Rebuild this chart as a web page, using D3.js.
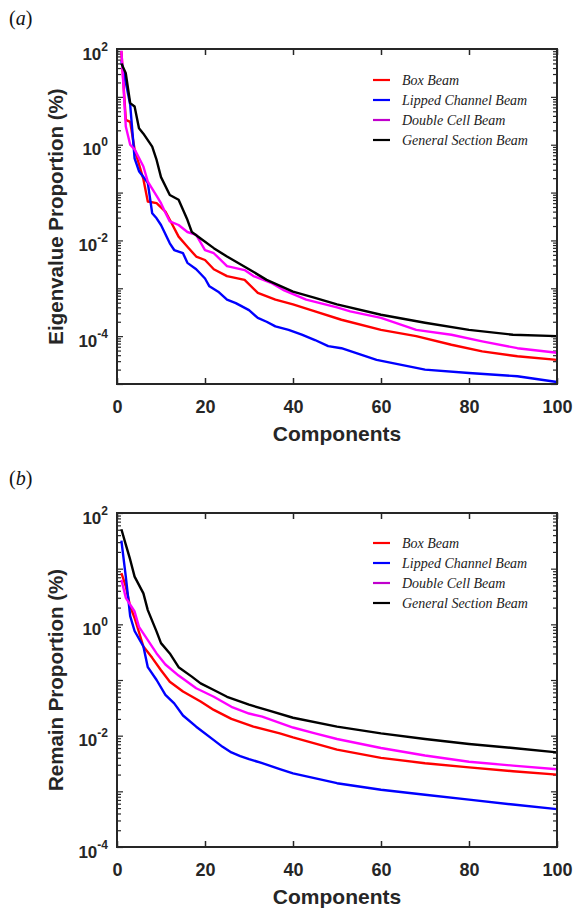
<!DOCTYPE html>
<html><head><meta charset="utf-8">
<script src="https://cdn.jsdelivr.net/npm/d3@7"></script>
<style>body{margin:0;background:#fff}</style>
</head><body>
<svg id="c" width="580" height="914"></svg>
<script>
// ---------- DATA ----------
const seriesNames = ["Box Beam", "Lipped Channel Beam", "Double Cell Beam", "General Section Beam"];
const lineColors = ["#ff0000", "#0000ff", "#ff00ff", "#000000"];
const legendColors = ["#ff0000", "#0000ff", "#c000cc", "#000000"];
const xTicks = [0, 20, 40, 60, 80, 100];
const yLabelTicks = [1e2, 1e0, 1e-2, 1e-4];

// (a) Eigenvalue proportion (%)
const eigBoxX = [1,2,3,4,6,7,9,11,12,14,16,18,20,22,25,29,32,36,40,45,51,60,68,76,83,91,100];
const eigBoxY = [90,3.3,3.0,0.8,0.19,0.065,0.06,0.04,0.027,0.012,7.4e-3,4.6e-3,3.9e-3,2.5e-3,1.8e-3,1.5e-3,8e-4,5.8e-4,4.6e-4,3.3e-4,2.2e-4,1.35e-4,1.0e-4,6.6e-5,4.8e-5,3.8e-5,3.2e-5];
const eigLipX = [1,2,3,4,5,7,8,9,10,12,13,15,16,18,20,21,23,25,27,30,32,34,36,39,42,45,48,51,59,70,80,91,100];
const eigLipY = [56,20,6.8,0.52,0.28,0.16,0.037,0.029,0.021,8.7e-3,6.3e-3,5.4e-3,3.4e-3,2.5e-3,1.6e-3,1.1e-3,8.5e-4,5.8e-4,4.9e-4,3.5e-4,2.4e-4,2.0e-4,1.6e-4,1.35e-4,1.07e-4,8.3e-5,6.2e-5,5.6e-5,3.2e-5,2.0e-5,1.7e-5,1.45e-5,1.1e-5];
const eigDblX = [1,2,3,4,6,7,9,10,11,12,14,16,18,20,22,25,29,31,35,38,43,50,53,60,68,76,83,91,100];
const eigDblY = [92,2.4,1.0,0.8,0.35,0.17,0.085,0.06,0.038,0.025,0.021,0.015,0.013,6.3e-3,5.4e-3,2.9e-3,2.4e-3,1.8e-3,1.3e-3,9e-4,5.8e-4,4e-4,3.3e-4,2.4e-4,1.35e-4,1.07e-4,7.8e-5,5.6e-5,4.5e-5];
const eigGenX = [1,2,3,4,5,6,8,9,10,12,14,16,17,19,22,25,30,34,40,45,50,60,70,80,90,100];
const eigGenY = [50,31,7.4,6.3,2.2,1.7,0.91,0.48,0.21,0.089,0.071,0.027,0.015,0.011,6.9e-3,4.6e-3,2.5e-3,1.5e-3,8.5e-4,6.3e-4,4.6e-4,2.8e-4,1.9e-4,1.35e-4,1.07e-4,1.0e-4];

// (b) Remain proportion (%)
const remBoxX = [1,2,3,4,6,8,10,12,15,19,22,26,31,37,40,50,60,70,80,90,100];
const remBoxY = [8.3,4.8,2.1,1.3,0.40,0.25,0.15,0.093,0.062,0.041,0.029,0.020,0.0145,0.011,9.3e-3,5.6e-3,4.0e-3,3.2e-3,2.7e-3,2.3e-3,2.0e-3];
const remLipX = [1,2,3,4,6,7,9,11,13,15,18,22,24,26,28,30,33,37,40,50,60,70,80,90,100];
const remLipY = [32,7.2,1.4,0.76,0.40,0.17,0.10,0.054,0.038,0.023,0.0145,8.3e-3,6.3e-3,5.0e-3,4.3e-3,3.8e-3,3.2e-3,2.5e-3,2.1e-3,1.4e-3,1.07e-3,8.7e-4,7.1e-4,5.8e-4,4.8e-4];
const remDblX = [1,2,4,5,7,9,11,14,18,22,26,30,33,40,45,50,60,70,80,90,100];
const remDblY = [6.3,3.0,1.7,0.9,0.52,0.30,0.19,0.12,0.071,0.05,0.033,0.025,0.022,0.014,0.011,8.7e-3,6.0e-3,4.4e-3,3.4e-3,2.9e-3,2.5e-3];
const remGenX = [1,2,3,4,6,7,9,10,12,14,17,19,22,25,30,34,40,50,60,70,80,90,100];
const remGenY = [51,27,14.5,7.2,3.6,1.8,0.74,0.46,0.30,0.17,0.115,0.087,0.066,0.05,0.036,0.029,0.021,0.0145,0.011,8.7e-3,7.1e-3,6.0e-3,5.0e-3];

// ---------- DRAW ----------
const svg = d3.select("#c");
const axisColor = "#262626";
const left = 117, right = 557;

const panels = [
  { tag: "(a)", tagY: 25, top: 49, bottom: 384, domain: [1e-5, 1e2],
    title: "Eigenvalue Proportion (%)", legendY: 80,
    xs: [eigBoxX, eigLipX, eigDblX, eigGenX], ys: [eigBoxY, eigLipY, eigDblY, eigGenY] },
  { tag: "(b)", tagY: 485, top: 513, bottom: 847, domain: [1e-4, 1e2],
    title: "Remain Proportion (%)", legendY: 543,
    xs: [remBoxX, remLipX, remDblX, remGenX], ys: [remBoxY, remLipY, remDblY, remGenY] }
];

panels.forEach(p => {
  const g = svg.append("g");
  const x = d3.scaleLinear().domain([0, 100]).range([left, right]);
  const y = d3.scaleLog().domain(p.domain).range([p.bottom, p.top]);

  // panel tag
  g.append("text").attr("x", 9).attr("y", p.tagY)
    .attr("font-family", "Liberation Serif, Times New Roman, serif").attr("font-size", 20)
    .attr("fill", "#111")
    .html('(<tspan font-style="italic">' + p.tag.slice(1, -1) + '</tspan>)');

  // minor & decade ticks
  const lo = Math.round(Math.log10(p.domain[0])), hi = Math.round(Math.log10(p.domain[1]));
  const minor = [], decades = [];
  for (let e = lo; e < hi; e++) {
    decades.push(Math.pow(10, e));
    for (let m = 2; m <= 9; m++) minor.push(m * Math.pow(10, e));
  }
  decades.push(Math.pow(10, hi));

  const mkY = (vals, size, orientLeft) => {
    const ax = (orientLeft ? d3.axisLeft(y) : d3.axisRight(y)).tickValues(vals)
      .tickSize(-size).tickFormat("");
    const gg = g.append("g").attr("transform", `translate(${orientLeft ? left : right},0)`).call(ax);
    gg.select(".domain").remove();
    gg.selectAll("line").attr("stroke", axisColor).attr("stroke-width", 1.2);
  };
  mkY(minor, 4, true); mkY(minor, 4, false);
  mkY(decades, 6, true); mkY(decades, 6, false);

  // x ticks bottom (with labels) and top
  const xb = g.append("g").attr("transform", `translate(0,${p.bottom})`)
    .call(d3.axisBottom(x).tickValues(xTicks).tickSize(-6).tickPadding(16));
  xb.select(".domain").remove();
  xb.selectAll("line").attr("stroke", axisColor).attr("stroke-width", 1.5);
  xb.selectAll("text").attr("font-family", "Liberation Sans, Arial, sans-serif")
    .attr("font-weight", "bold").attr("font-size", 18).attr("fill", axisColor)
    .attr("dy", "0.71em");
  const xt = g.append("g").attr("transform", `translate(0,${p.top})`)
    .call(d3.axisTop(x).tickValues(xTicks).tickSize(-6).tickFormat(""));
  xt.select(".domain").remove();
  xt.selectAll("line").attr("stroke", axisColor).attr("stroke-width", 1.5);

  // y labels
  const yl = g.append("g").attr("transform", `translate(${left},0)`)
    .call(d3.axisLeft(y).tickValues(yLabelTicks).tickSize(0).tickPadding(9).tickFormat(""));
  yl.select(".domain").remove();
  yl.selectAll(".tick text").each(function (d) {
    const t = d3.select(this);
    t.attr("font-family", "Liberation Sans, Arial, sans-serif").attr("font-weight", "bold")
      .attr("fill", axisColor).attr("font-size", 17).attr("dy", "0.6em");
    t.append("tspan").text("10");
    t.append("tspan").attr("font-size", 12).attr("dy", "-0.75em")
      .text(String(Math.round(Math.log10(d))));
  });

  // lines
  const line = d3.line().x(d => x(d[0])).y(d => y(d[1]));
  p.xs.forEach((xs, i) => {
    const pts = xs.map((v, k) => [v, p.ys[i][k]]);
    g.append("path").datum(pts).attr("d", line).attr("fill", "none")
      .attr("stroke", lineColors[i]).attr("stroke-width", 2.4).attr("stroke-linejoin", "round");
  });

  // frame
  g.append("rect").attr("x", left).attr("y", p.top).attr("width", right - left)
    .attr("height", p.bottom - p.top).attr("fill", "none")
    .attr("stroke", axisColor).attr("stroke-width", 2);

  // axis titles
  g.append("text").attr("x", (left + right) / 2).attr("y", p.bottom + 57)
    .attr("text-anchor", "middle").attr("font-family", "Liberation Sans, Arial, sans-serif")
    .attr("font-weight", "bold").attr("font-size", 21).attr("fill", axisColor).text("Components");
  g.append("text").attr("transform", `translate(56,${(p.top + p.bottom) / 2}) rotate(-90)`)
    .attr("text-anchor", "middle").attr("dy", "0.35em")
    .attr("font-family", "Liberation Sans, Arial, sans-serif")
    .attr("font-weight", "bold").attr("font-size", 20.5).attr("fill", axisColor).text(p.title);

  // legend
  seriesNames.forEach((n, i) => {
    const ly = p.legendY + i * 20;
    g.append("line").attr("x1", 373).attr("x2", 390).attr("y1", ly).attr("y2", ly)
      .attr("stroke", legendColors[i]).attr("stroke-width", 2.2);
    g.append("text").attr("x", 402).attr("y", ly).attr("dy", "0.33em")
      .attr("font-family", "Liberation Serif, Times New Roman, serif").attr("font-style", "italic")
      .attr("font-size", 14).attr("fill", "#222").text(n);
  });
});
</script>
</body></html>
